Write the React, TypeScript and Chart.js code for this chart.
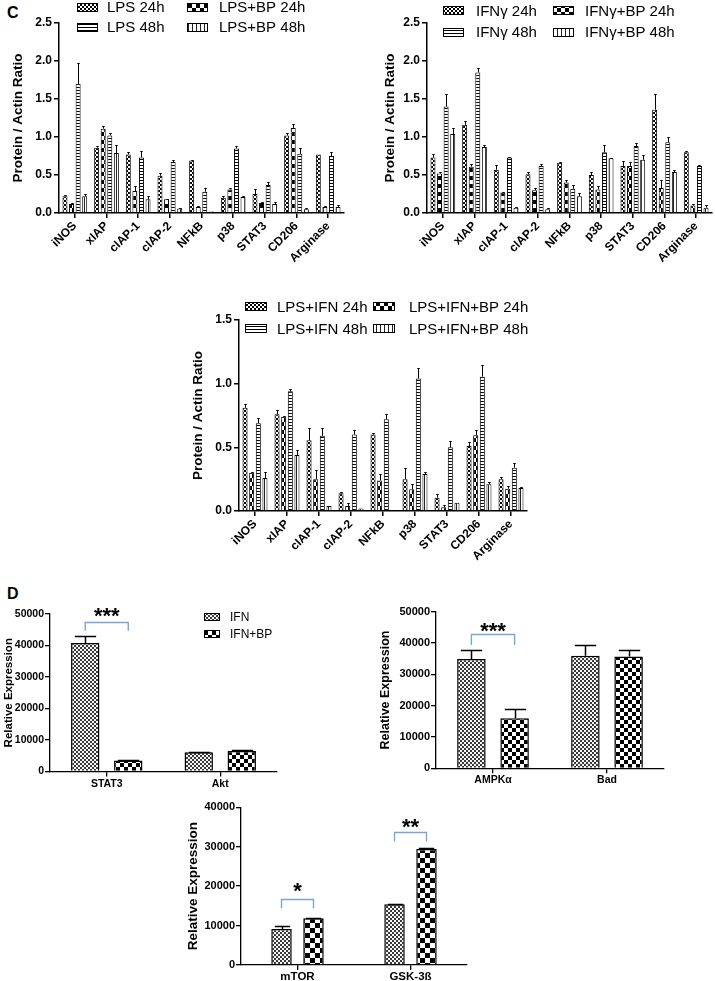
import React, { useEffect, useRef } from 'react';
import { Chart, registerables } from 'chart.js';
Chart.register(...registerables);

const FONT = "'Liberation Sans', Arial, Helvetica, sans-serif";
Chart.defaults.font.family = FONT;
Chart.defaults.color = '#000';

// ---------------- Panel C data ----------------
const markers = ['iNOS', 'xIAP', 'cIAP-1', 'cIAP-2', 'NFkB', 'p38', 'STAT3', 'CD206', 'Arginase'];

// C1 : LPS
const lpsLabels = ['LPS 24h', 'LPS+BP 24h', 'LPS 48h', 'LPS+BP 48h'];
const lps24 = [0.22, 0.86, 0.77, 0.49, 0.69, 0.2, 0.25, 1.02, 0.77];
const lpsBp24 = [0.12, 1.11, 0.29, 0.18, 0.08, 0.31, 0.13, 1.12, 0.08];
const lps48 = [1.7, 1.02, 0.73, 0.67, 0.28, 0.85, 0.37, 0.78, 0.75];
const lpsBp48 = [0.22, 0.79, 0.18, 0.06, 0.02, 0.21, 0.12, 0.05, 0.08];
const lps24Err = [0.02, 0.02, 0.03, 0.03, 0.01, 0.02, 0.06, 0.03, 0.0];
const lpsBp24Err = [0.01, 0.03, 0.06, 0.01, 0.01, 0.02, 0.02, 0.05, 0.01];
const lps48Err = [0.27, 0.03, 0.08, 0.03, 0.05, 0.03, 0.04, 0.08, 0.05];
const lpsBp48Err = [0.03, 0.11, 0.04, 0.01, 0.0, 0.01, 0.02, 0.01, 0.02];

// C2 : IFNγ
const ifnLabels = ['IFNγ 24h', 'IFNγ+BP 24h', 'IFNγ 48h', 'IFNγ+BP 48h'];
const ifn24 = [0.73, 1.16, 0.57, 0.51, 0.66, 0.5, 0.62, 1.36, 0.8];
const ifnBp24 = [0.52, 0.61, 0.27, 0.3, 0.4, 0.31, 0.62, 0.33, 0.1];
const ifn48 = [1.4, 1.85, 0.73, 0.62, 0.32, 0.8, 0.88, 0.93, 0.62];
const ifnBp48 = [1.04, 0.87, 0.07, 0.05, 0.22, 0.72, 0.7, 0.54, 0.07];
const ifn24Err = [0.05, 0.05, 0.06, 0.03, 0.01, 0.04, 0.06, 0.2, 0.01];
const ifnBp24Err = [0.02, 0.04, 0.01, 0.03, 0.03, 0.05, 0.05, 0.11, 0.02];
const ifn48Err = [0.17, 0.06, 0.01, 0.02, 0.05, 0.09, 0.04, 0.07, 0.01];
const ifnBp48Err = [0.08, 0.03, 0.01, 0.01, 0.04, 0.01, 0.06, 0.03, 0.03];

// C3 : LPS+IFN
const lpsIfnLabels = ['LPS+IFN 24h', 'LPS+IFN+BP 24h', 'LPS+IFN 48h', 'LPS+IFN+BP 48h'];
const lpsIfn24 = [0.81, 0.76, 0.555, 0.14, 0.6, 0.25, 0.105, 0.51, 0.25];
const lpsIfnBp24 = [0.3, 0.74, 0.25, 0.04, 0.24, 0.17, 0.03, 0.595, 0.175];
const lpsIfn48 = [0.69, 0.94, 0.59, 0.6, 0.72, 1.04, 0.5, 1.055, 0.34];
const lpsIfnBp48 = [0.26, 0.44, 0.04, 0.02, 0.005, 0.29, 0.065, 0.21, 0.18];
const lpsIfn24Err = [0.03, 0.03, 0.1, 0.01, 0.01, 0.09, 0.03, 0.03, 0.02];
const lpsIfnBp24Err = [0.01, 0.01, 0.07, 0.02, 0.05, 0.04, 0.02, 0.04, 0.02];
const lpsIfn48Err = [0.04, 0.02, 0.06, 0.04, 0.04, 0.08, 0.05, 0.09, 0.04];
const lpsIfnBp48Err = [0.05, 0.04, 0.0, 0.0, 0.0, 0.02, 0.0, 0.02, 0.01];

// ---------------- Panel D data ----------------
const dLabels = ['IFN', 'IFN+BP'];
const d1Genes = ['STAT3', 'Akt'];
const d1Ifn = [40800, 6100];
const d1IfnBp = [3500, 6500];
const d1IfnErr = [2300, 150];
const d1IfnBpErr = [300, 400];
const d1Significance = [{ category: 0, label: '***', top: 47500, leg: 44700, text: 51300 }];

const d2Genes = ['AMPKα', 'Bad'];
const d2Ifn = [34900, 35900];
const d2IfnBp = [16000, 35700];
const d2IfnErr = [2900, 3500];
const d2IfnBpErr = [2850, 2100];
const d2Significance = [{ category: 0, label: '***', top: 42800, leg: 39400, text: 45800 }];

const d3Genes = ['mTOR', 'GSK-3ß'];
const d3Ifn = [9100, 15400];
const d3IfnBp = [11850, 29450];
const d3IfnErr = [850, 100];
const d3IfnBpErr = [150, 100];
const d3Significance = [
  { category: 0, label: '*', top: 16750, leg: 14400, text: 20300 },
  { category: 1, label: '**', top: 33800, leg: 31300, text: 36500 },
];

// ---------------- patterns ----------------
function makePattern(ctx: CanvasRenderingContext2D, kind: string): any {
  const c = document.createElement('canvas');
  const g = c.getContext('2d')!;
  const checker = (cell: number, dark: string, light: string) => {
    c.width = cell * 2;
    c.height = cell * 2;
    g.fillStyle = light;
    g.fillRect(0, 0, cell * 2, cell * 2);
    g.fillStyle = dark;
    g.fillRect(0, 0, cell, cell);
    g.fillRect(cell, cell, cell, cell);
  };
  switch (kind) {
    case 'fine':
      checker(2, '#000', '#fff');
      break;
    case 'fineGray':
      checker(2, '#3a3a3a', '#f4f4f4');
      break;
    case 'checker4':
      checker(4, '#000', '#fff');
      break;
    case 'checker5':
      checker(5, '#000', '#fff');
      break;
    case 'hlines':
      c.width = 4;
      c.height = 3;
      g.fillStyle = '#fff';
      g.fillRect(0, 0, 4, 3);
      g.fillStyle = '#000';
      g.fillRect(0, 0, 4, 1);
      break;
    case 'vlines':
      c.width = 4;
      c.height = 4;
      g.fillStyle = '#fff';
      g.fillRect(0, 0, 4, 4);
      g.fillStyle = '#222';
      g.fillRect(0, 0, 1, 4);
      break;
    default:
      return '#fff';
  }
  return ctx.createPattern(c, 'repeat') || '#888';
}

// ---------------- plugins ----------------
const errorBarsPlugin = {
  id: 'errorBars',
  afterDatasetsDraw(chart: any, _a: any, opts: any) {
    const { ctx } = chart;
    const y = chart.scales.y;
    ctx.save();
    ctx.strokeStyle = '#000';
    ctx.lineWidth = opts.lineWidth ?? 1;
    chart.data.datasets.forEach((ds: any, i: number) => {
      const meta = chart.getDatasetMeta(i);
      const errs: number[] = ds.errors || [];
      meta.data.forEach((bar: any, j: number) => {
        const e = errs[j];
        if (!e) return;
        const v = ds.data[j];
        const x = Math.round(bar.x) + 0.5;
        const y0 = y.getPixelForValue(v);
        const y1 = Math.round(y.getPixelForValue(v + e)) + 0.5;
        const half = (bar.width * (opts.capRatio ?? 0.5)) / 2;
        ctx.beginPath();
        ctx.moveTo(x, y0);
        ctx.lineTo(x, y1);
        ctx.moveTo(x - half, y1);
        ctx.lineTo(x + half, y1);
        ctx.stroke();
      });
    });
    ctx.restore();
  },
};

const gridLegendPlugin = {
  id: 'gridLegend',
  afterDraw(chart: any, _a: any, opts: any) {
    if (!opts || !opts.cols) return;
    const ctx = chart.ctx;
    const cols: number[] = opts.cols;
    const rows: number[] = opts.rows;
    const offs: number[] = opts.textOffset;
    const w: number = opts.swatch[0];
    const h: number = opts.swatch[1];
    const perRow = cols.length;
    ctx.save();
    ctx.font = `${opts.fontSize}px ${FONT}`;
    ctx.textBaseline = 'middle';
    ctx.textAlign = 'left';
    chart.data.datasets.forEach((ds: any, i: number) => {
      const col = i % perRow;
      const row = Math.floor(i / perRow);
      const x = cols[col];
      const yc = rows[row];
      const top = Math.round(yc - h / 2);
      ctx.fillStyle = ds.backgroundColor;
      ctx.fillRect(x, top, w, h);
      ctx.strokeStyle = '#000';
      ctx.lineWidth = 1;
      ctx.strokeRect(x + 0.5, top + 0.5, w - 1, h - 1);
      ctx.fillStyle = '#000';
      ctx.fillText(ds.label, x + offs[col], yc + 1);
    });
    ctx.restore();
  },
};

const sigPlugin = {
  id: 'sig',
  afterDraw(chart: any, _a: any, opts: any) {
    const marks = (opts && opts.marks) || [];
    if (!marks.length) return;
    const { ctx } = chart;
    const y = chart.scales.y;
    const m0 = chart.getDatasetMeta(0);
    const m1 = chart.getDatasetMeta(1);
    ctx.save();
    marks.forEach((m: any) => {
      const xa = m0.data[m.category].x;
      const xb = m1.data[m.category].x;
      const yt = Math.round(y.getPixelForValue(m.top)) + 0.5;
      const yl = y.getPixelForValue(m.leg);
      ctx.strokeStyle = opts.color;
      ctx.lineWidth = opts.lineWidth;
      ctx.beginPath();
      ctx.moveTo(xa, yl);
      ctx.lineTo(xa, yt);
      ctx.lineTo(xb, yt);
      ctx.lineTo(xb, yl);
      ctx.stroke();
      ctx.fillStyle = '#000';
      ctx.font = `bold ${opts.fontSize}px ${FONT}`;
      ctx.textAlign = 'center';
      ctx.textBaseline = 'alphabetic';
      ctx.fillText(m.label, (xa + xb) / 2, y.getPixelForValue(m.text) + opts.fontSize * 0.58);
    });
    ctx.restore();
  },
};

// ---------------- chart specs ----------------
interface Series {
  label: string;
  data: number[];
  err: number[];
  pattern: string;
}
interface Spec {
  box: { left: number; top: number; width: number; height: number };
  area: { left: number; top: number; right: number; bottom: number };
  categories: string[];
  series: Series[];
  yMax: number;
  yStep: number;
  decimals: number;
  yTitle: string;
  yTitleSize: number;
  yTitleX: number;
  tickSize: number;
  catSize: number;
  rotate: boolean;
  catPad: number;
  catPct: number;
  barPct: number;
  barBorder: number;
  axisWidth: number;
  errWidth: number;
  capRatio: number;
  tickLen: number;
  legend?: any;
  sig?: any[];
}

const cCommon = {
  yTitle: 'Protein / Actin Ratio',
  yTitleSize: 13.5,
  tickSize: 12,
  catSize: 12,
  rotate: true,
  catPad: 1,
  catPct: 0.83,
  barPct: 0.76,
  barBorder: 1,
  axisWidth: 1.5,
  errWidth: 1,
  capRatio: 0.5,
  tickLen: 5,
  decimals: 1,
  yStep: 0.5,
};

const specC1: Spec = {
  ...cCommon,
  box: { left: 0, top: 0, width: 357, height: 285 },
  area: { left: 59, top: 23, right: 344, bottom: 213 },
  categories: markers,
  yMax: 2.5,
  yTitleX: 18,
  series: [
    { label: lpsLabels[0], data: lps24, err: lps24Err, pattern: 'fine' },
    { label: lpsLabels[1], data: lpsBp24, err: lpsBp24Err, pattern: 'checker4' },
    { label: lpsLabels[2], data: lps48, err: lps48Err, pattern: 'hlines' },
    { label: lpsLabels[3], data: lpsBp48, err: lpsBp48Err, pattern: 'vlines' },
  ],
  legend: { cols: [77, 187], rows: [7, 27], textOffset: [30, 32], swatch: [21, 9], fontSize: 15 },
};

const specC2: Spec = {
  ...cCommon,
  box: { left: 357, top: 0, width: 358, height: 285 },
  area: { left: 427, top: 23, right: 712, bottom: 213 },
  categories: markers,
  yMax: 2.5,
  yTitleX: 390,
  series: [
    { label: ifnLabels[0], data: ifn24, err: ifn24Err, pattern: 'fine' },
    { label: ifnLabels[1], data: ifnBp24, err: ifnBp24Err, pattern: 'checker4' },
    { label: ifnLabels[2], data: ifn48, err: ifn48Err, pattern: 'hlines' },
    { label: ifnLabels[3], data: ifnBp48, err: ifnBp48Err, pattern: 'vlines' },
  ],
  legend: { cols: [86, 196], rows: [10.5, 32], textOffset: [33, 32], swatch: [21, 9], fontSize: 15 },
};

const specC3: Spec = {
  ...cCommon,
  box: { left: 180, top: 290, width: 360, height: 290 },
  area: { left: 239, top: 320, right: 527, bottom: 511 },
  categories: markers,
  yMax: 1.5,
  yTitleX: 198,
  series: [
    { label: lpsIfnLabels[0], data: lpsIfn24, err: lpsIfn24Err, pattern: 'fine' },
    { label: lpsIfnLabels[1], data: lpsIfnBp24, err: lpsIfnBp24Err, pattern: 'checker4' },
    { label: lpsIfnLabels[2], data: lpsIfn48, err: lpsIfn48Err, pattern: 'hlines' },
    { label: lpsIfnLabels[3], data: lpsIfnBp48, err: lpsIfnBp48Err, pattern: 'vlines' },
  ],
  legend: { cols: [65, 193], rows: [16.5, 38.5], textOffset: [32, 36], swatch: [22, 9], fontSize: 15 },
};

const dCommon = {
  yTitle: 'Relative Expression',
  rotate: false,
  decimals: 0,
  yStep: 10000,
  barBorder: 1.5,
  axisWidth: 1.3,
  errWidth: 1.5,
  capRatio: 0.75,
  tickLen: 5,
  catPad: 1,
};

const sigStyle = { color: '#7ba4d8', lineWidth: 1.4, fontSize: 22 };

const specD1: Spec = {
  ...dCommon,
  box: { left: 0, top: 595, width: 300, height: 200 },
  area: { left: 50, top: 614, right: 277, bottom: 771.5 },
  categories: d1Genes,
  yMax: 50000,
  yTitleSize: 11.5,
  yTitleX: 9,
  tickSize: 10.5,
  catSize: 10.5,
  catPct: 0.758,
  barPct: 0.66,
  series: [
    { label: dLabels[0], data: d1Ifn, err: d1IfnErr, pattern: 'fineGray' },
    { label: dLabels[1], data: d1IfnBp, err: d1IfnBpErr, pattern: 'checker4' },
  ],
  legend: { cols: [204], rows: [22, 39], textOffset: [26], swatch: [16, 8], fontSize: 12 },
  sig: d1Significance,
};

const specD2: Spec = {
  ...dCommon,
  box: { left: 360, top: 592, width: 355, height: 203 },
  area: { left: 436, top: 611.7, right: 664, bottom: 768.3 },
  categories: d2Genes,
  yMax: 50000,
  yTitleSize: 12.5,
  yTitleX: 386,
  tickSize: 11,
  catSize: 10.5,
  catPct: 0.758,
  barPct: 0.66,
  series: [
    { label: dLabels[0], data: d2Ifn, err: d2IfnErr, pattern: 'fineGray' },
    { label: dLabels[1], data: d2IfnBp, err: d2IfnBpErr, pattern: 'checker4' },
  ],
  sig: d2Significance,
};

const specD3: Spec = {
  ...dCommon,
  box: { left: 180, top: 788, width: 320, height: 193 },
  area: { left: 241, top: 807.3, right: 467, bottom: 965 },
  categories: d3Genes,
  yMax: 40000,
  yTitleSize: 13.5,
  yTitleX: 193,
  tickSize: 11,
  catSize: 11.5,
  catPad: 0,
  catPct: 0.566,
  barPct: 0.64,
  series: [
    { label: dLabels[0], data: d3Ifn, err: d3IfnErr, pattern: 'fineGray' },
    { label: dLabels[1], data: d3IfnBp, err: d3IfnBpErr, pattern: 'checker5' },
  ],
  sig: d3Significance,
};

// ---------------- chart builder ----------------
function buildChart(canvas: HTMLCanvasElement, s: Spec) {
  const ctx = canvas.getContext('2d')!;
  const yWidth = s.area.left - s.box.left;
  const padTop = s.area.top - s.box.top;
  const padRight = s.box.left + s.box.width - s.area.right;
  const xHeight = s.box.top + s.box.height - s.area.bottom;
  const titlePad = s.yTitleX - s.box.left - (s.yTitleSize * 1.2) / 2;
  const gridCommon = {
    display: true,
    drawOnChartArea: false,
    drawTicks: true,
    tickLength: s.tickLen,
    color: '#000',
    lineWidth: s.axisWidth,
  };
  const border = { display: true, color: '#000', width: s.axisWidth };
  return new Chart(ctx, {
    type: 'bar',
    data: {
      labels: s.categories,
      datasets: s.series.map((ser) => ({
        label: ser.label,
        data: ser.data,
        errors: ser.err,
        backgroundColor: makePattern(ctx, ser.pattern),
        borderColor: '#000',
        borderWidth: s.barBorder,
        borderSkipped: 'start',
        categoryPercentage: s.catPct,
        barPercentage: s.barPct,
      })) as any,
    },
    options: {
      responsive: false,
      animation: false,
      events: [],
      layout: { padding: { top: padTop, right: padRight, left: 0, bottom: 0 } },
      plugins: {
        legend: { display: false },
        tooltip: { enabled: false },
        title: { display: false },
        gridLegend: s.legend ? s.legend : {},
        errorBars: { lineWidth: s.errWidth, capRatio: s.capRatio },
        sig: { ...sigStyle, marks: s.sig || [] },
      } as any,
      scales: {
        x: {
          type: 'category',
          offset: true,
          grid: { ...gridCommon, offset: false },
          border,
          ticks: {
            autoSkip: false,
            maxRotation: s.rotate ? 45 : 0,
            minRotation: s.rotate ? 45 : 0,
            padding: s.catPad,
            color: '#000',
            font: { size: s.catSize, weight: 'bold' },
          },
          afterFit: (sc: any) => {
            sc.height = xHeight;
          },
        },
        y: {
          min: 0,
          max: s.yMax,
          grid: gridCommon,
          border,
          ticks: {
            stepSize: s.yStep,
            padding: s.rotate ? 2 : 1,
            color: '#000',
            font: { size: s.tickSize, weight: 'bold' },
            callback: (v: any) => (s.decimals ? Number(v).toFixed(s.decimals) : String(v)),
          },
          title: {
            display: true,
            text: s.yTitle,
            color: '#000',
            font: { size: s.yTitleSize, weight: 'bold' },
            padding: { top: titlePad, bottom: 0 },
          },
          afterFit: (sc: any) => {
            sc.width = yWidth;
          },
        },
      },
    } as any,
    plugins: [errorBarsPlugin, gridLegendPlugin, sigPlugin] as any,
  });
}

function BarPanel({ spec }: { spec: Spec }) {
  const ref = useRef<HTMLCanvasElement>(null);
  useEffect(() => {
    const chart = buildChart(ref.current!, spec);
    return () => chart.destroy();
  }, [spec]);
  const b = spec.box;
  return (
    <canvas
      ref={ref}
      width={b.width}
      height={b.height}
      style={{ position: 'absolute', left: b.left, top: b.top, width: b.width, height: b.height }}
    />
  );
}

const panelLetter: React.CSSProperties = {
  position: 'absolute',
  fontFamily: FONT,
  fontWeight: 'bold',
  fontSize: 16,
  lineHeight: '18px',
  color: '#000',
};

export default function App() {
  return (
    <div
      style={{
        position: 'absolute',
        left: 0,
        top: 0,
        width: 715,
        height: 981,
        background: '#fff',
        overflow: 'hidden',
        fontFamily: FONT,
      }}
    >
      <div style={{ ...panelLetter, left: 7, top: 4 }}>C</div>
      <div style={{ ...panelLetter, left: 7, top: 585 }}>D</div>
      <BarPanel spec={specC1} />
      <BarPanel spec={specC2} />
      <BarPanel spec={specC3} />
      <BarPanel spec={specD1} />
      <BarPanel spec={specD2} />
      <BarPanel spec={specD3} />
    </div>
  );
}
